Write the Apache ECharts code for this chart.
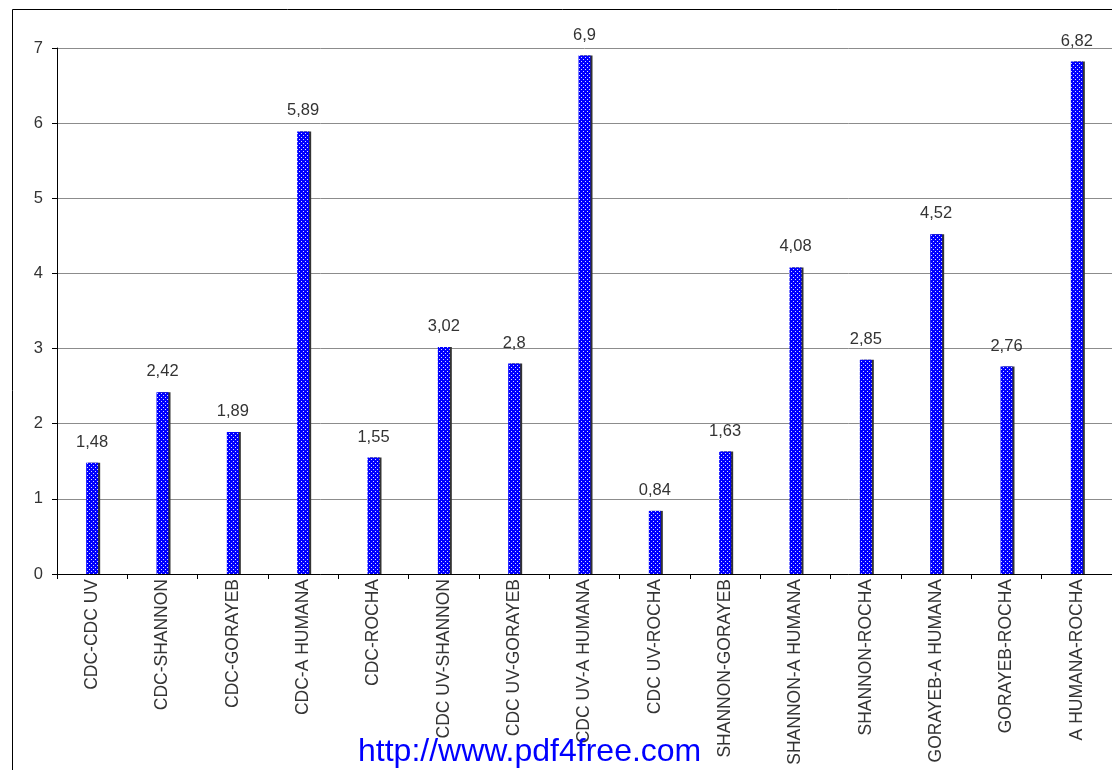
<!DOCTYPE html>
<html>
<head>
<meta charset="utf-8">
<script src="https://cdn.jsdelivr.net/npm/echarts@6/dist/echarts.min.js"></script>
<style>
  html, body { margin: 0; padding: 0; background: #fff; }
  #chart { width: 1112px; height: 770px; }
</style>
</head>
<body>
<div id="chart"></div>
<script>
// Pairwise comparisons and their values
const categories = [
  'CDC-CDC UV', 'CDC-SHANNON', 'CDC-GORAYEB', 'CDC-A HUMANA', 'CDC-ROCHA',
  'CDC UV-SHANNON', 'CDC UV-GORAYEB', 'CDC UV-A HUMANA', 'CDC UV-ROCHA',
  'SHANNON-GORAYEB', 'SHANNON-A HUMANA', 'SHANNON-ROCHA',
  'GORAYEB-A HUMANA', 'GORAYEB-ROCHA', 'A HUMANA-ROCHA'
];
const values = [1.48, 2.42, 1.89, 5.89, 1.55, 3.02, 2.8, 6.9, 0.84, 1.63, 4.08, 2.85, 4.52, 2.76, 6.82];
const yTicks = [0, 1, 2, 3, 4, 5, 6, 7];
const footerText = 'http://www.pdf4free.com';

// Dotted blue fill for the bars
function dotPattern() {
  const c = document.createElement('canvas');
  c.width = 4; c.height = 4;
  const g = c.getContext('2d');
  g.fillStyle = '#0000ff';
  g.fillRect(0, 0, 4, 4);
  g.fillStyle = 'rgba(255,255,255,0.85)';
  g.fillRect(1, 1, 1, 1);
  g.fillRect(3, 3, 1, 1);
  return c;
}

const FONT = "'Liberation Sans', Arial, sans-serif";
const chart = echarts.init(document.getElementById('chart'), null, { renderer: 'canvas' });

chart.setOption({
  animation: false,
  backgroundColor: '#fff',
  grid: { left: 57, right: 0, top: 48, bottom: 196, containLabel: false },
  xAxis: {
    type: 'category',
    data: categories,
    boundaryGap: true,
    axisLine: { lineStyle: { color: '#000', width: 1 } },
    axisTick: { show: true, length: 5, lineStyle: { color: '#000' } },
    axisLabel: {
      rotate: 90, interval: 0, margin: 5,
      color: '#333', fontFamily: FONT, fontSize: 17.5
    },
    splitLine: { show: false }
  },
  yAxis: {
    type: 'value',
    min: yTicks[0],
    max: yTicks[yTicks.length - 1],
    interval: 1,
    axisLine: { show: true, lineStyle: { color: '#000', width: 1 } },
    axisTick: { show: true, length: 5, lineStyle: { color: '#000' } },
    axisLabel: { margin: 14, color: '#333', fontFamily: FONT, fontSize: 16.5 },
    splitLine: { show: true, lineStyle: { color: '#8c8c8c', width: 1 } }
  },
  series: [{
    type: 'bar',
    data: values,
    barWidth: 12,
    itemStyle: {
      color: { image: dotPattern(), repeat: 'repeat' },
      shadowColor: '#333',
      shadowOffsetX: 2,
      shadowOffsetY: 0,
      shadowBlur: 0
    },
    label: {
      show: true,
      position: 'top',
      distance: 12,
      color: '#333',
      fontFamily: FONT,
      fontSize: 16.5,
      formatter: p => String(p.value).replace('.', ',')
    }
  }],
  graphic: [
    {
      type: 'rect',
      shape: { x: 12.5, y: 9.5, width: 1300, height: 900 },
      style: { fill: null, stroke: '#000', lineWidth: 1 },
      silent: true, z: 0
    },
    {
      type: 'text',
      left: 358, top: 736,
      style: { text: footerText, fill: '#0000ff', font: "32px 'Liberation Sans', Arial, sans-serif" },
      z: 100
    }
  ]
});
</script>
</body>
</html>
